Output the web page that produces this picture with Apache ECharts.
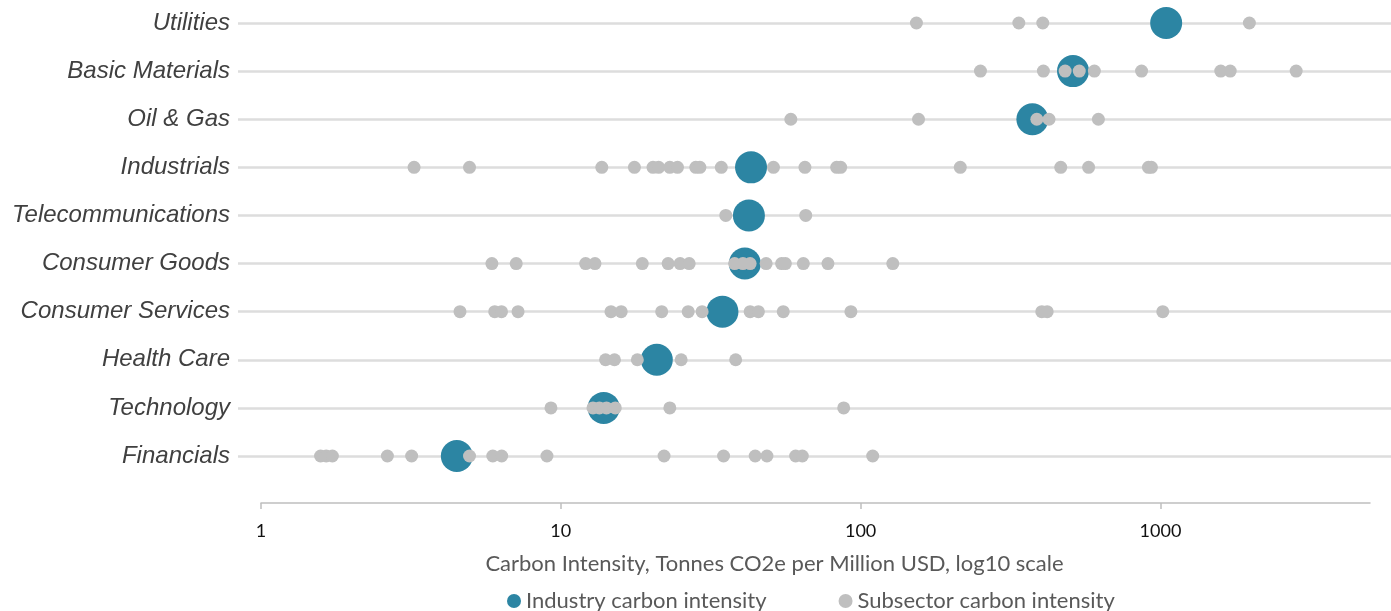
<!DOCTYPE html>
<html>
<head>
<meta charset="utf-8">
<script src="https://cdn.jsdelivr.net/npm/echarts@6/dist/echarts.min.js"></script>
<style>
html,body{margin:0;padding:0;background:#fff;}
#chart{width:1391px;height:611px;}
</style>
</head>
<body>
<div id="chart"></div>
<script>
// Categories, bottom to top
const categories = ['Financials','Technology','Health Care','Consumer Services','Consumer Goods','Telecommunications','Industrials','Oil & Gas','Basic Materials','Utilities'];

// Industry carbon intensity (one per category, same order)
const industryValues = [4.5, 13.9, 20.9, 34.6, 41.1, 42.4, 43.1, 374, 511, 1045];

// Subsector carbon intensities
const financials = [1.58, 1.65, 1.73, 2.64, 3.18, 4.96, 5.93, 6.35, 8.99, 22.1, 34.9, 44.5, 48.7, 60.7, 63.9, 109.7];
const technology = [9.27, 12.8, 13.45, 14.2, 15.2, 23.1, 87.8];
const healthCare = [14.1, 15.1, 18.0, 25.2, 38.3];
const consumerServices = [4.61, 6.02, 6.34, 7.2, 14.7, 15.9, 21.7, 26.6, 29.6, 42.8, 45.6, 55.2, 92.8, 402, 419, 1018];
const consumerGoods = [5.89, 7.1, 12.1, 13.0, 18.7, 22.8, 25.0, 26.8, 38.0, 40.5, 42.8, 48.4, 54.5, 56.1, 64.4, 77.8, 128];
const telecommunications = [35.5, 65.6];
const industrials = [3.24, 4.96, 13.7, 17.6, 20.3, 21.2, 23.1, 24.5, 28.2, 29.1, 34.3, 51.2, 65.2, 83.2, 85.8, 215, 465, 576, 912, 933];
const oilGas = [58.5, 156, 387, 425, 621];
const basicMaterials = [251, 407, 481, 536, 602, 865, 1589, 1709, 2836];
const utilities = [153.5, 337, 405, 1980];

const subsectorLists = [financials, technology, healthCare, consumerServices, consumerGoods, telecommunications, industrials, oilGas, basicMaterials, utilities];

// X-axis tick labels
const xTicks = [1, 10, 100, 1000];

const industryData = industryValues.map((v, i) => [v, i + 1]);
const subsectorData = [];
subsectorLists.forEach((arr, i) => arr.forEach(v => subsectorData.push([v, i + 1])));

const chart = echarts.init(document.getElementById('chart'), null, {renderer: 'canvas'});
const option = {
  backgroundColor: '#ffffff',
  animation: false,
  grid: [
    {left: 238, right: 0, top: 23, bottom: 155},
    {left: 261, right: 21, top: 23, bottom: 155}
  ],
  xAxis: [
    {gridIndex: 0, type: 'value', min: 0, max: 1, show: false},
    {
      gridIndex: 1, type: 'log', logBase: 10, min: 1, max: 5000,
      position: 'bottom', offset: 47,
      axisLine: {show: true, lineStyle: {color: '#bfbfbf', width: 1.5}},
      axisTick: {show: true, inside: false, length: 6, lineStyle: {color: '#bfbfbf', width: 1.5}, customValues: xTicks},
      axisLabel: {show: true, customValues: xTicks, margin: 19, color: '#111111', fontFamily: 'Lato', fontSize: 18,
        formatter: v => String(Math.round(v))},
      splitLine: {show: false},
      name: 'Carbon Intensity, Tonnes CO2e per Million USD, log10 scale',
      nameLocation: 'middle', nameGap: 50,
      nameTextStyle: {color: '#595959', fontFamily: 'Lato', fontSize: 22, padding: [0, 82, 0, 0]}
    }
  ],
  yAxis: [
    {
      gridIndex: 0, type: 'value', min: 1, max: 10, interval: 1,
      axisLine: {show: false}, axisTick: {show: false},
      axisLabel: {show: true, margin: 8, color: '#404040', fontFamily: 'Liberation Sans', fontStyle: 'italic', fontSize: 24,
        formatter: v => categories[Math.round(v) - 1] || ''},
      splitLine: {show: true, lineStyle: {color: '#dddddd', width: 2.5}}
    },
    {gridIndex: 1, type: 'value', min: 1, max: 10, show: false, splitLine: {show: false}}
  ],
  legend: {
    left: 502, top: 585,
    itemGap: 72, itemWidth: 14, itemHeight: 14,
    icon: 'circle',
    textStyle: {color: '#595959', fontFamily: 'Lato', fontSize: 22},
    data: ['Industry carbon intensity', 'Subsector carbon intensity']
  },
  series: [
    {
      name: 'Industry carbon intensity', type: 'scatter', xAxisIndex: 1, yAxisIndex: 1,
      clip: false, symbolSize: 32, itemStyle: {color: '#2c85a3', opacity: 1},
      data: industryData, z: 2
    },
    {
      name: 'Subsector carbon intensity', type: 'scatter', xAxisIndex: 1, yAxisIndex: 1,
      clip: false, symbolSize: 13, itemStyle: {color: '#bfbfbf', opacity: 1},
      data: subsectorData, z: 3
    }
  ]
};
chart.setOption(option);
</script>
</body>
</html>
